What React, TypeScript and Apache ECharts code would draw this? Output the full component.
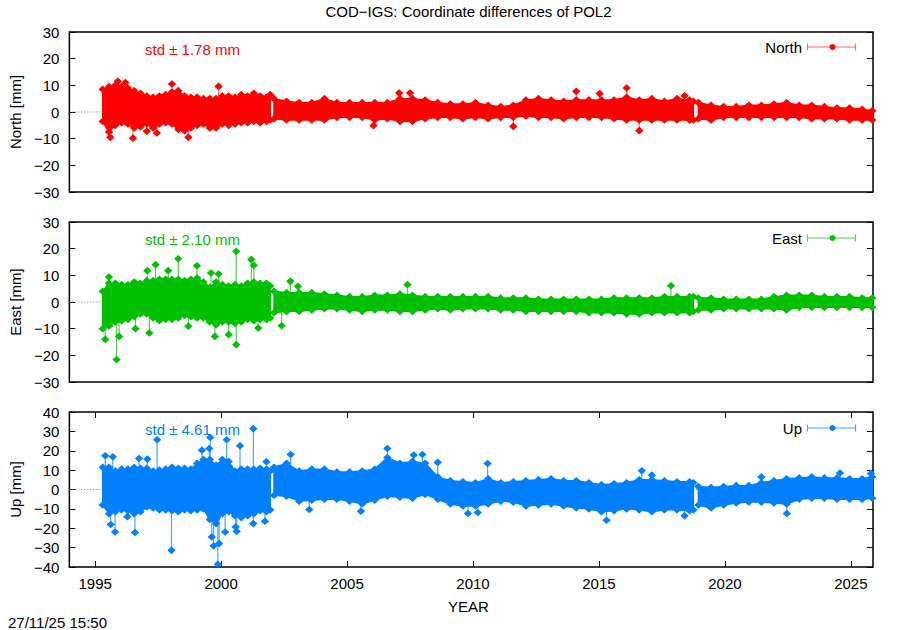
import React, { useEffect, useRef } from "react";
import * as echarts from "echarts";

const X_MIN = 1993.975;
const X_MAX = 2025.88;
const xTickYears = [1995, 2000, 2005, 2010, 2015, 2020, 2025];
const yTicksNE = [-30, -20, -10, 0, 10, 20, 30];
const yTicksUp = [-40, -30, -20, -10, 0, 10, 20, 30, 40];

// sampling epochs of the three data segments (decimal years)
const epochsA = [1995.30, 1995.55, 1995.80, 1996.05, 1996.30, 1996.55, 1996.80, 1997.05, 1997.30, 1997.55, 1997.80, 1998.05, 1998.30, 1998.55, 1998.80, 1999.05, 1999.30, 1999.55, 1999.80, 2000.05, 2000.30, 2000.55, 2000.80, 2001.05, 2001.30, 2001.55, 2001.80, 2001.95];
const epochsB = [2002.1, 2002.6, 2003.1, 2003.6, 2004.1, 2004.6, 2005.1, 2005.6, 2006.1, 2006.6, 2007.1, 2007.6, 2008.1, 2008.6, 2009.1, 2009.6, 2010.1, 2010.6, 2011.1, 2011.6, 2012.1, 2012.6, 2013.1, 2013.6, 2014.1, 2014.6, 2015.1, 2015.6, 2016.1, 2016.6, 2017.1, 2017.6, 2018.1, 2018.6, 2018.75];
const epochsC = [2018.95, 2019.45, 2019.95, 2020.45, 2020.95, 2021.45, 2021.95, 2022.45, 2022.95, 2023.45, 2023.95, 2024.45, 2024.95, 2025.45, 2025.85];

// North: upper / lower envelope of the daily residual cloud [mm]
const northHiA = [8.5, 9.5, 10, 9.5, 9, 8, 7, 6, 5.5, 6, 6.5, 7.5, 8, 6, 5.5, 5.5, 5, 5, 5, 6, 6, 5.5, 6.5, 6, 7, 6, 5.5, 6.5];
const northLoA = [-3.5, -7.5, -5, -4, -4.5, -6, -5.5, -4.5, -6, -4.5, -4, -4.5, -6.5, -7, -6, -5, -4.5, -6, -6, -4.5, -5, -4.5, -4, -4, -3.5, -4, -3.5, -3];
const northHiB = [5, 4, 3.5, 3.5, 5, 3.5, 3.5, 3.5, 3.5, 3.5, 5, 5, 4.5, 3.5, 3, 3, 3.5, 2.5, 2, 2.5, 4.5, 5, 4.5, 4, 4.5, 4.5, 4.5, 4.5, 5.5, 4.5, 5, 4, 5, 4.5, 4];
const northLoB = [-2.5, -3, -3, -3, -3, -2, -2, -2, -3, -2.5, -3.5, -3.5, -2.5, -2, -2, -2.5, -2, -2.5, -2, -2, -1.5, -2, -2, -2.5, -2, -2, -2, -2.5, -3, -3, -3, -3, -3, -3, -3];
const northHiC = [3.5, 2.5, 2, 2, 2.5, 2.5, 3, 3.5, 2.5, 2.5, 2, 1.5, 1.5, 1, 0.5];
const northLoC = [-2.5, -3, -2, -2, -2, -2, -2, -2, -2, -2.5, -2.5, -2.5, -3, -3, -3];
const northOutliers = [[1995.9, 11.5], [1996.2, 11], [1995.6, -9.5], [1996.5, -9.8], [1997.05, -7.2], [1997.45, -7.9], [1998.05, 10.5], [1998.7, -9.5], [1999.9, 9.6], [2006.05, -5.1], [2007.07, 7.1], [2007.5, 7.1], [2011.6, -5.4], [2014.1, 7.75], [2015.03, 6.9], [2016.1, 9], [2016.6, -7], [2018.4, 6.1]];

// East
const eastHiA = [4, 7, 7, 6.5, 6.5, 7.5, 7, 8, 8, 8.5, 8.5, 8.5, 8.5, 8, 8.5, 9, 7.5, 5.5, 7.5, 6.5, 6, 6.5, 6, 7, 7.5, 7, 7, 6];
const eastLoA = [-10, -9, -7.5, -7, -6.5, -5.5, -4.5, -4.5, -6, -7, -6.5, -6.5, -6, -5, -5.5, -6, -6, -7.5, -8.5, -7.5, -7.5, -8, -7.5, -6.5, -7, -6.5, -6.5, -6];
const eastHiB = [4, 3.5, 3.5, 3.5, 3, 2.5, 2, 2, 2.5, 2.5, 3, 2.5, 2, 2, 2, 2, 2, 2, 1.5, 1.5, 1.5, 1, 1, 1, 1, 1, 1, 1.5, 1.5, 1.5, 1.5, 2, 2, 2, 2];
const eastLoB = [-4, -3.5, -3.5, -3, -2.5, -2.5, -3, -3.5, -3, -3, -3.5, -3.5, -3, -2.5, -3, -2.5, -2.5, -2.5, -3, -3, -3.5, -3.5, -3.5, -3.5, -3.5, -4, -4, -4, -4.5, -4.5, -4, -4, -4, -4, -3.5];
const eastHiC = [1.5, 1.5, 1, 1, 1, 1, 2, 2.5, 2.5, 2.5, 2, 2, 2, 1.5, 1.5];
const eastLoC = [-3, -3, -2.5, -2.5, -2.5, -2.5, -2.5, -3, -2, -2, -2, -2, -2, -2, -2];
const eastOutliers = [[1995.4, -14], [1995.55, 9.4], [1995.85, -21.6], [1995.95, -12.9], [1996.6, -10], [1997.07, 11.75], [1997.15, -11.6], [1997.4, 14], [1997.9, 11.75], [1998.3, 16.2], [1998.7, -9.1], [1999.04, 13.6], [1999.6, 10.9], [1999.75, -12.9], [1999.9, 10.5], [2000.3, -12.25], [2000.6, 19], [2000.6, -16], [2001.2, 15.9], [2001.3, 13.75], [2001.47, -9.75], [2002.4, -8.9], [2002.75, 7.75], [2003.05, 5.9], [2007.4, 6.5], [2017.86, 6.1]];

// Up
const upHiA = [11.5, 11.5, 9.5, 10.5, 10.5, 11.5, 11, 11, 9.5, 10, 10.5, 11.5, 11, 11, 10.5, 13.5, 15.5, 15.5, 12.5, 15.5, 14.5, 9.5, 10.5, 10.5, 10.5, 11, 10.5, 9.5];
const upLoA = [-8, -12.5, -11.5, -10.5, -11, -12.5, -11.5, -9, -9.5, -10.5, -10.5, -11, -11.5, -10.5, -11, -10.5, -10, -15.5, -17.5, -12.5, -11.5, -13.5, -14.5, -13.5, -12.5, -11, -11.5, -10.5];
const upHiB = [11.5, 13.5, 9.5, 10.5, 10.5, 9, 9, 9.5, 10.5, 16.5, 13.5, 14.5, 13.5, 6.5, 4.5, 4, 3.5, 5.5, 3.5, 4, 4.5, 5, 5.5, 4.5, 4.5, 3.5, 2.5, 3, 3.5, 5, 5, 4.5, 4, 4, 3.5];
const upLoB = [-3, -3.5, -6, -5.5, -5, -5, -6, -7.5, -5.5, -3.5, -4, -4.5, -2.5, -5, -7.5, -8.5, -8.5, -7.5, -6, -6.5, -8.5, -8, -7.5, -8.5, -9.5, -10, -11.5, -11, -10, -10.5, -11.5, -10.5, -10.5, -11, -10.5];
const upHiC = [1.5, 1, 1.5, 2, 2, 3.5, 4.5, 5.5, 6, 6.5, 6, 6, 5.5, 5.5, 6.5];
const upLoC = [-8, -9.5, -8, -7, -6.5, -6.5, -7, -7.5, -5, -4.5, -4.5, -5, -5, -5, -4.5];
const upOutliers = [[1995.4, 17.4], [1995.62, -18.1], [1995.7, 16.9], [1995.79, -21.9], [1996.28, -14], [1996.58, -22.2], [1996.74, 16], [1997.07, 15.7], [1997.46, 25.7], [1998.03, -31.4], [1999.24, 20.3], [1999.53, 21.2], [1999.57, 26.9], [1999.63, -24.5], [1999.7, -29.1], [1999.87, -38.6], [1999.92, -27.9], [2000.16, -21.9], [2000.22, 25.7], [2000.58, -19.3], [2000.62, -21.6], [2000.75, 22.6], [2001.28, 31.4], [2001.28, -17.6], [2001.74, -16.4], [2001.8, 14.3], [2002.76, 18.1], [2003.5, -10.3], [2005.55, -11.2], [2006.6, 21.2], [2007.65, 17.8], [2007.99, 18.1], [2008.6, 14], [2009.8, -12.4], [2010.19, -11.9], [2010.58, 13.4], [2015.3, -15.9], [2016.7, 9.7], [2017.1, 7.4], [2018.4, -13.6], [2021.45, 6.5], [2022.46, -12.4], [2024.57, 8.5], [2025.8, 8.3]];

const panelNames = ["North", "East", "Up"];
const stdValues = ["1.78", "2.10", "4.61"];
const colors = ["#ff0000", "#00c000", "#0080ff"];
const lightColors = ["#ff6b6b", "#55cc55", "#4aa3ff"];

const FONT = "Liberation Sans, Arial, Helvetica, sans-serif";
const FS = 15;

function buildBand(his: number[][], los: number[][]) {
  const segs = [epochsA, epochsB, epochsC];
  const items: number[][] = [];
  segs.forEach((ep, s) => {
    ep.forEach((t, j) => items.push([t, his[s][j], los[s][j], s]));
  });
  return items;
}

function diamond(p: number[], color: string) {
  return {
    type: "polygon",
    shape: { points: [[p[0], p[1] - 3.8], [p[0] + 4.2, p[1]], [p[0], p[1] + 3.8], [p[0] - 4.2, p[1]]] },
    style: { fill: color },
  };
}

export default function App() {
  const ref = useRef<HTMLDivElement>(null);
  useEffect(() => {
    if (!ref.current) return;
    const chart = echarts.init(ref.current, null, { renderer: "svg" });
    const bands = [
      buildBand([northHiA, northHiB, northHiC], [northLoA, northLoB, northLoC]),
      buildBand([eastHiA, eastHiB, eastHiC], [eastLoA, eastLoB, eastLoC]),
      buildBand([upHiA, upHiB, upHiC], [upLoA, upLoB, upLoC]),
    ];
    const outliers = [northOutliers, eastOutliers, upOutliers];
    const tops = [32, 222, 412];
    const heights = [160, 160, 155];
    const minus = (v: number) => String(v).replace("-", "\u2212");

    const grids = tops.map((t, i) => ({
      left: 64, width: 809, top: t, height: heights[i],
      show: true, borderColor: "#000", borderWidth: 1.5, backgroundColor: "transparent",
    }));

    const tickStyle = { color: "#000", width: 1 };
    const xAxes: any[] = [];
    for (let i = 0; i < 3; i++) {
      xAxes.push({
        type: "value", gridIndex: i, position: "bottom", min: X_MIN, max: X_MAX,
        axisLine: { show: false, onZero: false }, splitLine: { show: false },
        axisTick: i === 2 ? { show: true, inside: true, length: 6, lineStyle: tickStyle, customValues: xTickYears } : { show: false },
        axisLabel: i === 2 ? { show: true, margin: 9, color: "#000", fontSize: FS, fontFamily: FONT, customValues: xTickYears, formatter: (v: number) => String(v) } : { show: false },
      });
    }
    xAxes.push({
      type: "value", gridIndex: 2, position: "top", min: X_MIN, max: X_MAX,
      axisLine: { show: false, onZero: false }, splitLine: { show: false },
      axisTick: { show: true, inside: true, length: 6, lineStyle: tickStyle, customValues: xTickYears },
      axisLabel: { show: false },
    });

    const yAxes: any[] = [];
    for (let i = 0; i < 3; i++) {
      const ticks = i === 2 ? yTicksUp : yTicksNE;
      const lim = i === 2 ? 40 : 30;
      yAxes.push({
        type: "value", gridIndex: i, position: "left", min: -lim, max: lim,
        name: panelNames[i] + " [mm]", nameLocation: "middle", nameGap: 40,
        nameTextStyle: { color: "#000", fontSize: FS, fontFamily: FONT },
        axisLine: { show: false, onZero: false }, splitLine: { show: false },
        axisTick: { show: true, inside: true, length: 6, lineStyle: tickStyle, customValues: ticks },
        axisLabel: { show: true, margin: 10, color: "#000", fontSize: FS, fontFamily: FONT, customValues: ticks, formatter: minus },
      });
      yAxes.push({
        type: "value", gridIndex: i, position: "right", min: -lim, max: lim,
        axisLine: { show: false, onZero: false }, splitLine: { show: false },
        axisTick: { show: true, inside: true, length: 6, lineStyle: tickStyle, customValues: ticks },
        axisLabel: { show: false },
      });
    }

    const series: any[] = [];
    for (let i = 0; i < 3; i++) {
      const band = bands[i];
      const col = colors[i];
      const light = lightColors[i];
      // dotted zero line
      series.push({
        type: "line", xAxisIndex: i, yAxisIndex: 2 * i, z: 1, silent: true,
        data: [[X_MIN, 0], [X_MAX, 0]], symbol: "none",
        lineStyle: { color: "#777", width: 1, type: [1, 2] },
      });
      // stems of isolated points
      series.push({
        type: "custom", xAxisIndex: i, yAxisIndex: 2 * i, z: 2, silent: true,
        data: outliers[i], encode: { x: 0, y: 1 },
        renderItem: (params: any, api: any) => {
          const o = outliers[i][params.dataIndex];
          const a = api.coord([o[0], 0]);
          const b = api.coord([o[0], o[1]]);
          return { type: "line", shape: { x1: a[0], y1: a[1], x2: b[0], y2: b[1] }, style: { stroke: light, lineWidth: 1.2 } };
        },
      });
      // solid cloud, one polygon per data segment
      series.push({
        type: "custom", xAxisIndex: i, yAxisIndex: 2 * i, z: 3, silent: true,
        data: [[0], [1], [2]],
        renderItem: (params: any, api: any) => {
          const s = params.dataIndex;
          const pts = band.filter((it) => it[3] === s);
          const upper = pts.map((it) => api.coord([it[0], it[1]]));
          const lower = pts.map((it) => api.coord([it[0], it[2]])).reverse();
          return { type: "polygon", shape: { points: upper.concat(lower) }, style: { fill: col, stroke: col, lineWidth: 1.5, lineJoin: "round" } };
        },
      });
      // edge points of the cloud
      series.push({
        type: "custom", xAxisIndex: i, yAxisIndex: 2 * i, z: 3, silent: true,
        data: band, encode: { x: 0, y: 1 },
        renderItem: (params: any, api: any) => {
          const it = band[params.dataIndex];
          return { type: "group", children: [diamond(api.coord([it[0], it[1]]), col), diamond(api.coord([it[0], it[2]]), col)] };
        },
      });
      // isolated points
      series.push({
        type: "custom", xAxisIndex: i, yAxisIndex: 2 * i, z: 4, silent: true,
        data: outliers[i], encode: { x: 0, y: 1 },
        renderItem: (params: any, api: any) => {
          const o = outliers[i][params.dataIndex];
          return diamond(api.coord([o[0], o[1]]), col);
        },
      });
    }

    const graphics: any[] = [
      { type: "text", x: 468.5, y: 11.5, style: { text: "COD\u2212IGS: Coordinate differences of POL2", fill: "#000", font: `${FS}px ${FONT}`, textAlign: "center", textVerticalAlign: "middle" } },
      { type: "text", x: 468.5, y: 606.5, style: { text: "YEAR", fill: "#000", font: `${FS}px ${FONT}`, textAlign: "center", textVerticalAlign: "middle" } },
      { type: "text", x: 8, y: 622.5, style: { text: "27/11/25 15:50", fill: "#000", font: `${FS}px ${FONT}`, textAlign: "left", textVerticalAlign: "middle" } },
    ];
    const legendY = [47, 238, 428];
    const stdY = [49, 239, 429];
    for (let i = 0; i < 3; i++) {
      graphics.push({ type: "text", x: 145, y: stdY[i], z: 10, style: { text: "std \u00b1 " + stdValues[i] + " mm", fill: colors[i], font: `${FS}px ${FONT}`, textAlign: "left", textVerticalAlign: "middle" } });
      graphics.push({ type: "text", x: 802, y: legendY[i], style: { text: panelNames[i], fill: "#000", font: `${FS}px ${FONT}`, textAlign: "right", textVerticalAlign: "middle" } });
      graphics.push({ type: "line", shape: { x1: 807.5, y1: legendY[i], x2: 855.5, y2: legendY[i] }, style: { stroke: lightColors[i], lineWidth: 1.2 } });
      graphics.push({ type: "line", shape: { x1: 807.5, y1: legendY[i] - 3.5, x2: 807.5, y2: legendY[i] + 3.5 }, style: { stroke: lightColors[i], lineWidth: 1.2 } });
      graphics.push({ type: "line", shape: { x1: 855.5, y1: legendY[i] - 3.5, x2: 855.5, y2: legendY[i] + 3.5 }, style: { stroke: lightColors[i], lineWidth: 1.2 } });
      graphics.push({ type: "circle", shape: { cx: 832.5, cy: legendY[i], r: 3 }, style: { fill: colors[i] } });
    }

    chart.setOption({
      animation: false,
      backgroundColor: "#fff",
      grid: grids,
      xAxis: xAxes,
      yAxis: yAxes,
      series,
      graphic: graphics,
    });
    return () => chart.dispose();
  }, []);
  return <div ref={ref} style={{ position: "absolute", left: 0, top: 0, width: 900, height: 630, background: "#fff" }} />;
}
